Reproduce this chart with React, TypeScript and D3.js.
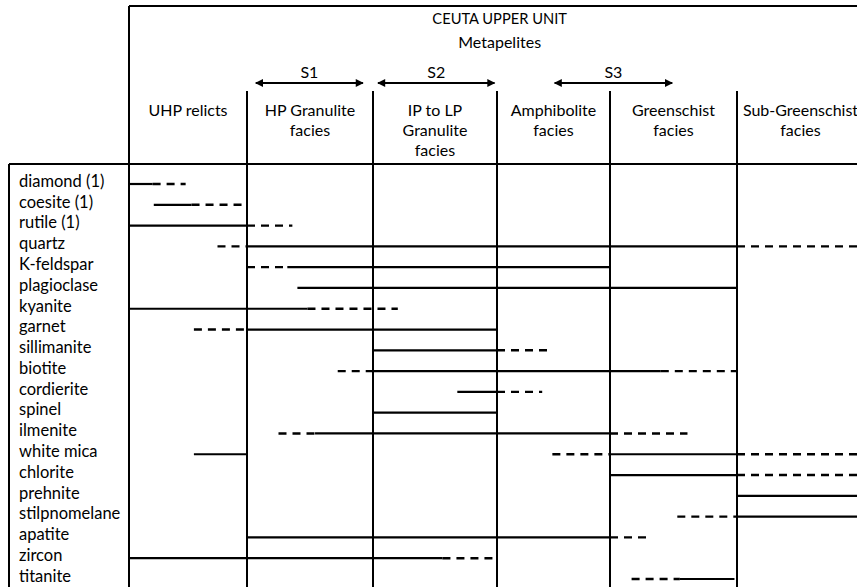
import { useEffect, useRef } from 'react';
import * as d3 from 'd3';

// facies columns, left to right
const facies = [
  ['UHP relicts'],
  ['HP Granulite', 'facies'],
  ['IP to LP', 'Granulite', 'facies'],
  ['Amphibolite', 'facies'],
  ['Greenschist', 'facies'],
  ['Sub-Greenschist', 'facies'],
];

// deformation stages, in facies units
const stages: [string, number, number][] = [
  ['S1', 1.07, 1.92],
  ['S2', 2.04, 2.98],
  ['S3', 3.51, 4.49],
];

const minerals = [
  'diamond (1)', 'coesite (1)', 'rutile (1)', 'quartz', 'K-feldspar', 'plagioclase',
  'kyanite', 'garnet', 'sillimanite', 'biotite', 'cordierite', 'spinel', 'ilmenite',
  'white mica', 'chlorite', 'prehnite', 'stilpnomelane', 'apatite', 'zircon', 'titanite',
];

// stability ranges (facies units): certain
const solidRanges: [string, number, number][] = [
  ['diamond (1)', 0, 0.2],
  ['coesite (1)', 0.21, 0.53],
  ['rutile (1)', 0, 1],
  ['quartz', 1, 5],
  ['K-feldspar', 1.32, 4],
  ['plagioclase', 1.4, 5],
  ['kyanite', 0, 1.48],
  ['garnet', 1, 3],
  ['sillimanite', 2, 3],
  ['biotite', 2, 4.4],
  ['cordierite', 2.68, 3],
  ['spinel', 2, 3],
  ['ilmenite', 1.54, 4],
  ['white mica', 0.55, 1],
  ['white mica', 4, 5],
  ['chlorite', 4, 5],
  ['prehnite', 5, 6],
  ['stilpnomelane', 5, 6],
  ['apatite', 1, 4],
  ['zircon', 0, 2.56],
  ['titanite', 4.55, 4.98],
];

// stability ranges: uncertain (dashed)
const dashedRanges: [string, number, number][] = [
  ['diamond (1)', 0.2, 0.48],
  ['coesite (1)', 0.53, 1],
  ['rutile (1)', 1, 1.36],
  ['quartz', 0.75, 1],
  ['quartz', 5, 6],
  ['K-feldspar', 1, 1.32],
  ['kyanite', 1.48, 2.2],
  ['garnet', 0.55, 1],
  ['sillimanite', 3, 3.49],
  ['biotite', 1.72, 2],
  ['biotite', 4.4, 5],
  ['cordierite', 3, 3.4],
  ['ilmenite', 1.25, 1.54],
  ['ilmenite', 4, 4.61],
  ['white mica', 3.49, 4],
  ['white mica', 5, 6],
  ['chlorite', 5, 6],
  ['stilpnomelane', 4.53, 5],
  ['apatite', 4, 4.29],
  ['zircon', 2.56, 3],
  ['titanite', 4.17, 4.55],
];

const App = () => {
  const ref = useRef<SVGSVGElement | null>(null);

  useEffect(() => {
    if (!ref.current) return;
    const svg = d3.select(ref.current);
    svg.selectAll('*').remove();

    const width = 857;
    const height = 587;
    const font = 'Lato, "Open Sans", sans-serif';

    // piecewise scale: column boundaries
    const x = d3.scaleLinear()
      .domain([0, 1, 2, 3, 4, 5, 6])
      .range([129, 247, 373, 497, 610, 737, 864]);

    const y = d3.scalePoint<string>()
      .domain(minerals)
      .range([181, 576]);

    const g = svg.append('g').attr('stroke', '#000').attr('stroke-width', 2);

    // frame
    g.append('line').attr('x1', x(0)).attr('x2', width).attr('y1', 6).attr('y2', 6);
    g.append('line').attr('x1', x(0)).attr('x2', x(0)).attr('y1', 6).attr('y2', height);
    g.append('line').attr('x1', 9).attr('x2', width).attr('y1', 164).attr('y2', 164);
    g.append('line').attr('x1', 9).attr('x2', 9).attr('y1', 164).attr('y2', height);
    d3.range(1, 6).forEach(i => {
      g.append('line').attr('x1', x(i)).attr('x2', x(i)).attr('y1', 91).attr('y2', height);
    });

    // titles
    const title = svg.append('g').attr('font-family', font).attr('font-size', 16)
      .attr('text-anchor', 'middle').attr('fill', '#000');
    const mid = (x(0) + x(6.05)) / 2;
    title.append('text').attr('x', mid).attr('y', 19).attr('dy', '0.35em')
      .attr('font-size', 14.7).text('CEUTA UPPER UNIT');
    title.append('text').attr('x', mid).attr('y', 42).attr('dy', '0.35em').text('Metapelites');

    // deformation arrows
    const defs = svg.append('defs');
    defs.append('marker')
      .attr('id', 'ah')
      .attr('viewBox', '0 0 10 10')
      .attr('refX', 9).attr('refY', 5)
      .attr('markerWidth', 5).attr('markerHeight', 4)
      .attr('orient', 'auto-start-reverse')
      .attr('markerUnits', 'strokeWidth')
      .append('path').attr('d', 'M0,0L10,5L0,10z').attr('fill', '#000');

    stages.forEach(([label, a, b]) => {
      svg.append('line')
        .attr('x1', x(a)).attr('x2', x(b)).attr('y1', 83).attr('y2', 83)
        .attr('stroke', '#000').attr('stroke-width', 2)
        .attr('marker-start', 'url(#ah)').attr('marker-end', 'url(#ah)');
      title.append('text')
        .attr('x', (x(a) + x(b)) / 2).attr('y', 72).attr('dy', '0.35em')
        .text(label);
    });

    // facies headers
    facies.forEach((lines, i) => {
      lines.forEach((t, j) => {
        title.append('text')
          .attr('x', (x(i) + x(i + 1)) / 2)
          .attr('y', 110 + j * 20).attr('dy', '0.35em')
          .text(t);
      });
    });

    // mineral names
    svg.append('g').attr('font-family', font).attr('font-size', 16.5).attr('fill', '#000')
      .selectAll('text').data(minerals).join('text')
      .attr('x', 19).attr('y', d => y(d)!).attr('dy', '0.35em')
      .text(d => d);

    // ranges
    const off = 3;
    svg.append('g').selectAll('line').data(solidRanges).join('line')
      .attr('x1', d => x(d[1])).attr('x2', d => x(d[2]))
      .attr('y1', d => y(d[0])! + off).attr('y2', d => y(d[0])! + off)
      .attr('stroke', '#000').attr('stroke-width', 2.2);

    svg.append('g').selectAll('line').data(dashedRanges).join('line')
      .attr('x1', d => x(d[1])).attr('x2', d => x(d[2]))
      .attr('y1', d => y(d[0])! + off).attr('y2', d => y(d[0])! + off)
      .attr('stroke', '#000').attr('stroke-width', 2.4)
      .attr('stroke-dasharray', '8,6');
  }, []);

  return (
    <svg ref={ref} width={857} height={587}
      style={{ position: 'absolute', left: 0, top: 0, background: '#fff' }} />
  );
};

export default App;
